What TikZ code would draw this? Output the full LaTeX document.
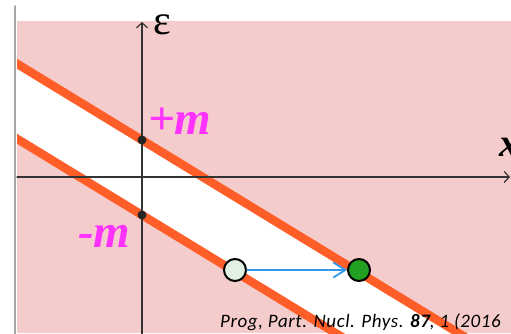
\documentclass[tikz,border=0pt]{standalone}
\usepackage{fontspec}
\setmainfont{Liberation Serif}
\newfontfamily\citefont[LetterSpace=3]{Carlito}
\usetikzlibrary{arrows.meta}
\definecolor{bandpink}{RGB}{245,204,204}
\definecolor{edgeorange}{RGB}{255,94,40}
\definecolor{labelmag}{RGB}{255,51,255}
\definecolor{arrowblue}{RGB}{51,153,230}
\definecolor{dotgreen}{RGB}{34,160,34}
\definecolor{palegreen}{RGB}{226,242,226}

\begin{document}
\begin{tikzpicture}[x=1pt, y=-1pt, line cap=round, line join=round,
  axis/.style={line width=1.2pt, draw=black!80, -{Straight Barb[length=5pt,width=11pt]}},
  edge/.style={line width=8.5pt, draw=edgeorange, line cap=butt},
  mlabel/.style={text=labelmag, inner sep=0pt, anchor=base west, font=\fontsize{47}{47}\selectfont\bfseries\itshape},
  state/.style={circle, draw=black, line width=2pt, minimum size=22pt, inner sep=0pt},
  tick/.style={circle, fill=black!85, minimum size=9pt, inner sep=0pt}]
  \useasboundingbox (0,0) rectangle (511,334);

  \coordinate (U1) at (0,53.4);
  \coordinate (U2) at (520,370.6);
  \coordinate (L1) at (0,128.4);
  \coordinate (L2) at (520,445.6);

  \fill[bandpink] (17,21) rectangle (511,333);
  \begin{scope}
    \clip (17,21) rectangle (511,333);
    \fill[white] (U1) -- (U2) -- (L2) -- (L1) -- cycle;
    \draw[edge] (U1) -- (U2);
    \draw[edge] (L1) -- (L2);
  \end{scope}

  \draw[gray!70, line width=1.5pt] (15,6) -- (15,334);

  \coordinate (Ebot) at (142,334);
  \coordinate (Etop) at (142,22);
  \coordinate (Xleft) at (17,177);
  \coordinate (Xright) at (510,177);
  \draw[axis] (Ebot) -- (Etop);
  \draw[axis] (Xleft) -- (Xright);

  \node[tick] (plusm) at (142,140) {};
  \node[tick] (minusm) at (142,215) {};
  \node[mlabel] (plab) at (148,135) {+m};
  \node[mlabel] (mlab) at (78,247) {-m};

  \node[inner sep=0pt, anchor=base west, font=\fontsize{42}{42}\selectfont] (eps) at (153,35) {ε};
  \node[inner sep=0pt, anchor=base west, font=\fontsize{40}{40}\selectfont\bfseries\itshape] (xlab) at (499,157) {x};

  \node[state, fill=palegreen] (before) at (235,270) {};
  \node[state, fill=dotgreen] (after) at (359,270) {};
  \draw[arrowblue, line width=1.8pt, -{Straight Barb[length=12pt,width=15pt]}] (before) -- (after);

  \node[inner sep=0pt, anchor=base west, font=\citefont\itshape\fontsize{19}{19}\selectfont] (cite) at (220,327) {Prog, Part. Nucl. Phys. \textbf{87}, 1 (2016};
\end{tikzpicture}
\end{document}
